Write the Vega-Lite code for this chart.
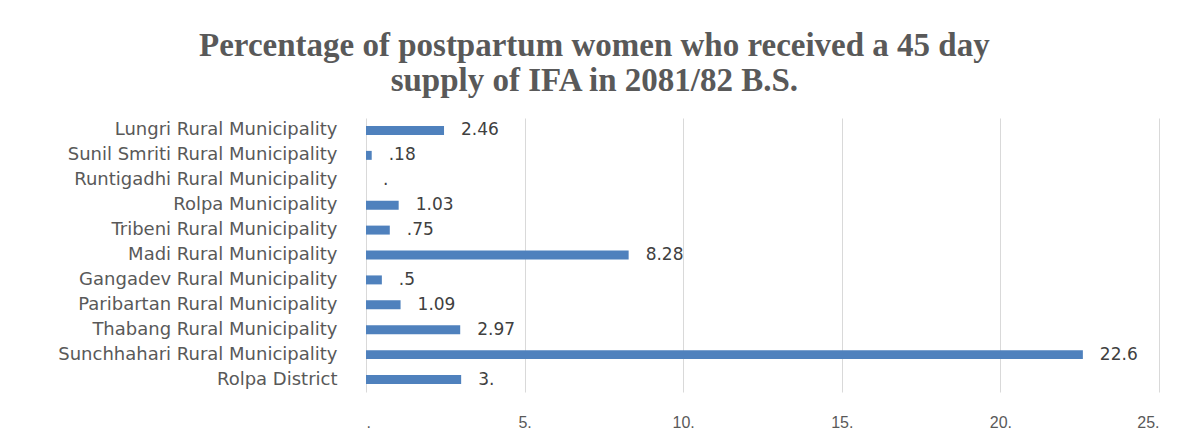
{
  "$schema": "https://vega.github.io/schema/vega-lite/v6.json",
  "width": 793,
  "height": 274,
  "autosize": {"type": "none"},
  "padding": {"left": 366, "top": 118, "right": 40, "bottom": 56},
  "background": "white",
  "title": {
    "text": ["Percentage of postpartum women who received a 45 day", "supply of IFA in 2081/82 B.S."],
    "font": "Liberation Serif",
    "fontSize": 33,
    "fontWeight": "bold",
    "color": "#595959",
    "anchor": "middle",
    "frame": "bounds",
    "lineHeight": 35,
    "offset": 20,
    "dx": -14
  },
  "data": {
    "values": [
      {"area": "Lungri Rural Municipality", "value": 2.46, "label": "2.46"},
      {"area": "Sunil Smriti Rural Municipality", "value": 0.18, "label": ".18"},
      {"area": "Runtigadhi Rural Municipality", "value": 0, "label": "."},
      {"area": "Rolpa Municipality", "value": 1.03, "label": "1.03"},
      {"area": "Tribeni Rural Municipality", "value": 0.75, "label": ".75"},
      {"area": "Madi Rural Municipality", "value": 8.28, "label": "8.28"},
      {"area": "Gangadev Rural Municipality", "value": 0.5, "label": ".5"},
      {"area": "Paribartan Rural Municipality", "value": 1.09, "label": "1.09"},
      {"area": "Thabang Rural Municipality", "value": 2.97, "label": "2.97"},
      {"area": "Sunchhahari Rural Municipality", "value": 22.6, "label": "22.6"},
      {"area": "Rolpa District", "value": 3, "label": "3."}
    ]
  },
  "encoding": {
    "y": {
      "field": "area",
      "type": "nominal",
      "sort": null,
      "title": null,
      "scale": {"paddingInner": 0.64, "paddingOuter": 0.32},
      "axis": {
        "domain": false,
        "ticks": false,
        "labelFont": "DejaVu Sans",
        "labelFontSize": 18,
        "labelColor": "#595959",
        "labelPadding": 29,
        "labelLimit": 0
      }
    },
    "x": {
      "field": "value",
      "type": "quantitative",
      "title": null,
      "scale": {"domain": [0, 25], "nice": false},
      "axis": {
        "values": [0, 5, 10, 15, 20, 25],
        "labelExpr": "datum.value == 0 ? '.' : datum.value + '.'",
        "domain": false,
        "ticks": false,
        "grid": true,
        "gridColor": "#d9d9d9",
        "gridWidth": 1,
        "labelFont": "Liberation Sans",
        "labelFontSize": 16,
        "labelColor": "#595959",
        "labelPadding": 22
      }
    }
  },
  "layer": [
    {"mark": {"type": "bar", "color": "#4F81BD"}},
    {
      "mark": {"type": "text", "align": "left", "baseline": "middle", "dx": 17, "font": "DejaVu Sans", "fontSize": 17, "color": "#404040"},
      "encoding": {"text": {"field": "label"}}
    }
  ],
  "config": {"view": {"stroke": null}}
}
